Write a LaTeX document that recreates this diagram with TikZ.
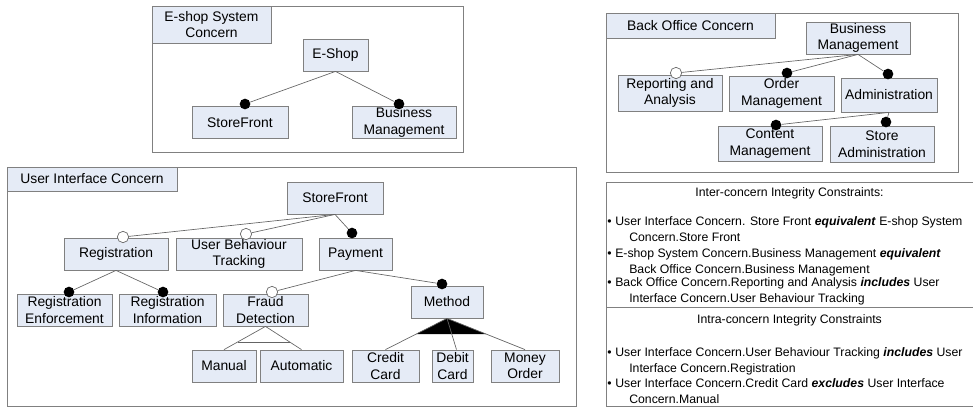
\documentclass[tikz,border=0pt]{standalone}
\usepackage{fontspec}
\setmainfont{Liberation Sans}
\usetikzlibrary{calc}
\definecolor{featfill}{RGB}{229,235,246}
\definecolor{boxline}{RGB}{128,128,128}
\definecolor{linkline}{RGB}{100,100,100}
\newcommand\featfont{\fontsize{10.4}{12.4}\selectfont}
\newcommand\consfont{\fontsize{9.2}{11.4}\selectfont}
\newcommand\bul{\makebox[6pt][l]{\textbullet}}
\newcommand\cont{\hspace*{16.5pt}}
\newcommand\kw[1]{\textbf{\textit{#1}}}
\tikzset{
    feat/.style = {rectangle, draw=boxline, fill=featfill, line width=0.6pt, inner sep=0pt, align=center, font=\featfont, minimum height=24pt},
    wd/.style = {minimum width=#1*0.75pt},
    ht/.style = {minimum height=#1*0.75pt},
    concernbox/.style = {draw=boxline, line width=0.7pt},
    mand/.style = {circle, fill=black, inner sep=0pt, minimum size=8pt},
    opt/.style = {circle, draw=linkline, fill=white, line width=0.5pt, inner sep=0pt, minimum size=8.5pt},
    rel/.style = {draw=linkline, line width=0.5pt},
    % multi-line text: base is the baseline of the last line
    cons/.style = {anchor=base west, align=left, inner sep=0pt, font=\consfont}
}

\begin{document}
\begin{tikzpicture}[x=0.75pt, y=-0.75pt]
\useasboundingbox (0,0) rectangle (973,408);

% E-shop system concern
\draw[concernbox] (152,6) rectangle (463,152);
\node[feat, wd=119, ht=37] (esTitle) at (211.5,24.5) {E-shop System\\Concern};
\node[feat, wd=65] (eshop) at (335.5,55) {E-Shop};
\node[feat, wd=96] (esSF) at (240,122.5) {StoreFront};
\node[feat, wd=104] (esBM) at (404,122.5) {Business\\Management};
\node[mand] (dEsSF) at (245,104) {};
\node[mand] (dEsBM) at (399,104) {};
\draw[rel] (eshop.south) -- (dEsSF);
\draw[rel] (eshop.south) -- (dEsBM);

% Back office concern
\draw[concernbox] (606,13) rectangle (958,172);
\node[feat, wd=169, ht=25] (boTitle) at (690.5,25.5) {Back Office Concern};
\node[feat, wd=104] (boBM) at (858,38) {Business\\Management};
\node[feat, wd=104, ht=36] (rep) at (670,93) {Reporting and\\Analysis};
\node[feat, wd=105, ht=35] (ord) at (781.5,93.5) {Order\\Management};
\node[feat, wd=96, ht=34] (adm) at (889,95) {Administration};
\node[feat, wd=104, ht=35] (cont) at (770,143.5) {Content\\Management};
\node[feat, wd=104, ht=36] (sadm) at (882,144) {Store\\Administration};
\node[opt] (dRep) at (676,73) {};
\node[mand] (dOrd) at (787,73) {};
\node[mand] (dAdm) at (888,74) {};
\node[mand] (dCont) at (776,125) {};
\node[mand] (dSadm) at (886,122) {};
\draw[rel] (boBM.south) -- (dRep);
\draw[rel] (boBM.south) -- (dOrd);
\draw[rel] (boBM.south) -- (dAdm);
\draw[rel] (adm.south) -- (dCont);
\draw[rel] (adm.south) -- (dSadm);

% User interface concern
\draw[concernbox] (7,167) rectangle (576,406);
\node[feat, wd=170, ht=24] (uiTitle) at (92,179) {User Interface Concern};
\node[feat, wd=96] (sf) at (335,198) {StoreFront};
\node[feat, wd=104] (reg) at (116,254) {Registration};
\node[feat, wd=126] (ubt) at (239,254) {User Behaviour\\Tracking};
\node[feat, wd=73] (pay) at (355.5,254) {Payment};
\node[feat, wd=95] (regE) at (64.5,310) {Registration\\Enforcement};
\node[feat, wd=97] (regI) at (167.5,310) {Registration\\Information};
\node[feat, wd=85] (fd) at (265.5,310) {Fraud\\Detection};
\node[feat, wd=72] (meth) at (447,302) {Method};
\node[feat, wd=64] (man) at (224,366) {Manual};
\node[feat, wd=83] (aut) at (301.5,366) {Automatic};
\node[feat, wd=67] (cc) at (385.5,366) {Credit\\Card};
\node[feat, wd=41] (dc) at (452.5,366) {Debit\\Card};
\node[feat, wd=68] (mo) at (525,366) {Money\\Order};

\node[opt] (dReg) at (123,237) {};
\node[opt] (dUbt) at (246,234) {};
\node[mand] (dPay) at (352,233) {};
\node[mand] (dRegE) at (69,292) {};
\node[mand] (dRegI) at (163,292) {};
\node[opt] (dFd) at (272,292) {};
\node[mand] (dMeth) at (442,284) {};
\draw[rel] (sf.south) -- (dReg);
\draw[rel] (sf.south) -- (dUbt);
\draw[rel] (sf.south) -- (dPay);
\draw[rel] (reg.south) -- (dRegE);
\draw[rel] (reg.south) -- (dRegI);
\draw[rel] (pay.south) -- (dFd);
\draw[rel] (pay.south) -- (dMeth);

% alternative group under fraud detection
\draw[rel] (man.north) -- (fd.south) -- (aut.north);
\draw[rel] ($(fd.south)!0.67!(man.north)$) -- ($(fd.south)!0.67!(aut.north)$);

% or group under method
\fill ($(meth.south)!0.5!(cc.north)$) -- (meth.south) -- ($(meth.south)!0.5!(mo.north)$) -- cycle;
\draw[rel] (meth.south) -- (cc.north);
\draw[rel] (meth.south) -- ([xshift=3pt]dc.north);
\draw[rel] (meth.south) -- (mo.north);

% Integrity constraints
\draw[concernbox] (606,182) rectangle (973,406);
\draw[concernbox] (606,307) -- (973,307);
\node[font=\consfont, inner sep=0pt] (interHd) at (789.5,193) {Inter-concern Integrity Constraints:};
\node[cons] (inter1) at (607,241) {\bul User Interface Concern. Store Front \kw{equivalent} E-shop System\\\cont Concern.Store Front};
\node[cons] (inter2) at (607,273) {\bul E-shop System Concern.Business Management \kw{equivalent}\\\cont Back Office Concern.Business Management};
\node[cons] (inter3) at (607,302) {\bul Back Office Concern.Reporting and Analysis \kw{includes} User\\\cont Interface Concern.User Behaviour Tracking};
\node[font=\consfont, inner sep=0pt] (intraHd) at (789.5,320) {Intra-concern Integrity Constraints};
\node[cons] (intra1) at (607,372) {\bul User Interface Concern.User Behaviour Tracking \kw{includes} User\\\cont Interface Concern.Registration};
\node[cons] (intra2) at (607,403) {\bul User Interface Concern.Credit Card \kw{excludes} User Interface\\\cont Concern.Manual};
\end{tikzpicture}
\end{document}
